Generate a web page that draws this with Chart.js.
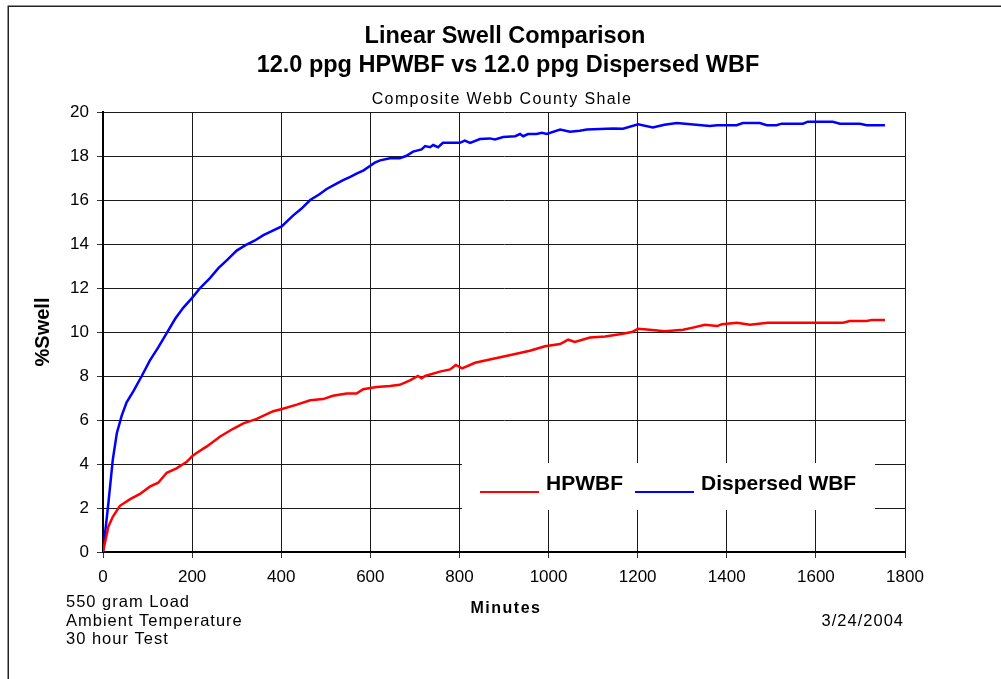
<!DOCTYPE html>
<html>
<head>
<meta charset="utf-8">
<script src="https://cdn.jsdelivr.net/npm/chart.js@4.4.1/dist/chart.umd.min.js"></script>
<style>
  html, body { margin: 0; padding: 0; background: #fff; }
  #wrap { width: 1001px; height: 679px; }
</style>
</head>
<body>
<div id="wrap"><canvas id="myChart" width="1001" height="679"></canvas></div>
<script>
// data
var hpMinutes = [0, 12, 22, 38, 61, 83, 105, 124, 143, 165, 188, 200, 210, 233, 263, 292, 315, 345, 382, 402, 435, 465, 494, 516, 547, 569, 584, 614, 644, 666, 689, 707, 715, 723, 756, 779, 792, 806, 835, 868, 902, 925, 958, 992, 1026, 1044, 1059, 1093, 1127, 1160, 1187, 1201, 1227, 1261, 1302, 1324, 1351, 1378, 1389, 1423, 1452, 1492, 1661, 1676, 1714, 1726, 1755];
var hpSwell = [0, 1.15, 1.6, 2.1, 2.4, 2.64, 2.97, 3.15, 3.6, 3.8, 4.1, 4.35, 4.5, 4.8, 5.25, 5.6, 5.85, 6.05, 6.4, 6.5, 6.7, 6.9, 6.95, 7.1, 7.2, 7.2, 7.4, 7.5, 7.55, 7.6, 7.8, 8.0, 7.9, 8.0, 8.2, 8.3, 8.5, 8.35, 8.6, 8.75, 8.9, 9.0, 9.15, 9.35, 9.45, 9.65, 9.55, 9.75, 9.8, 9.9, 10.0, 10.15, 10.1, 10.03, 10.1, 10.2, 10.33, 10.27, 10.35, 10.42, 10.33, 10.42, 10.42, 10.5, 10.5, 10.55, 10.55];

var dwMinutes = [0, 12, 22, 31, 42, 53, 68, 87, 105, 124, 143, 162, 180, 200, 218, 240, 259, 280, 300, 320, 340, 360, 380, 401, 427, 445, 465, 485, 502, 520, 539, 555, 569, 585, 599, 610, 622, 644, 666, 680, 696, 715, 723, 734, 741, 752, 763, 801, 812, 824, 846, 868, 880, 898, 925, 936, 943, 954, 973, 985, 996, 1026, 1048, 1070, 1086, 1145, 1167, 1201, 1234, 1260, 1288, 1362, 1378, 1422, 1436, 1474, 1490, 1512, 1523, 1571, 1582, 1638, 1654, 1699, 1714, 1755];
var dwSwell = [0, 2.2, 4.2, 5.4, 6.2, 6.8, 7.3, 8.0, 8.7, 9.3, 9.95, 10.6, 11.1, 11.55, 12.0, 12.45, 12.9, 13.3, 13.7, 13.95, 14.15, 14.4, 14.6, 14.8, 15.3, 15.6, 16.0, 16.25, 16.5, 16.7, 16.9, 17.05, 17.2, 17.35, 17.55, 17.7, 17.8, 17.9, 17.9, 18.0, 18.2, 18.3, 18.45, 18.4, 18.5, 18.4, 18.6, 18.6, 18.7, 18.6, 18.77, 18.8, 18.75, 18.86, 18.9, 19.0, 18.9, 19.0, 19.0, 19.05, 19.0, 19.2, 19.1, 19.15, 19.2, 19.25, 19.24, 19.44, 19.3, 19.42, 19.5, 19.36, 19.4, 19.4, 19.5, 19.5, 19.4, 19.4, 19.47, 19.47, 19.56, 19.56, 19.47, 19.47, 19.4, 19.4];

var seriesNames = ["HPWBF", "Dispersed WBF"];
var seriesColors = ["#ff0000", "#0000ff"];

var titleLines = ["Linear Swell Comparison", "12.0 ppg HPWBF vs 12.0 ppg Dispersed WBF"];
var subTitle = "Composite Webb County Shale";
var xTitle = "Minutes";
var yTitle = "%Swell";
var notesLeft = ["550 gram Load", "Ambient Temperature", "30 hour Test"];
var noteDate = "3/24/2004";

var FONT = "'Liberation Sans', Arial, sans-serif";

function toPoints(xs, ys) {
  var pts = [];
  for (var i = 0; i < xs.length; i++) pts.push({x: xs[i], y: ys[i]});
  return pts;
}

// frame, titles, notes and the legend box
var extrasPlugin = {
  id: "extras",
  afterDraw: function(chart) {
    var ctx = chart.ctx;
    ctx.save();
    ctx.strokeStyle = "#222";
    ctx.lineWidth = 1.5;
    ctx.strokeRect(8.25, 6.25, 1200, 1000);

    ctx.fillStyle = "#000";
    ctx.textAlign = "center";
    ctx.textBaseline = "alphabetic";
    ctx.font = "bold 23.5px " + FONT;
    ctx.fillText(titleLines[0], 505, 43);
    ctx.fillText(titleLines[1], 508, 72);
    ctx.font = "16px " + FONT;
    ctx.letterSpacing = "1.4px";
    ctx.fillText(subTitle, 502, 104);

    ctx.font = "bold 16px " + FONT;
    ctx.letterSpacing = "1.5px";
    ctx.fillText(xTitle, 506, 613);

    ctx.textAlign = "left";
    ctx.font = "16.5px " + FONT;
    ctx.letterSpacing = "1px";
    for (var i = 0; i < notesLeft.length; i++) {
      ctx.fillText(notesLeft[i], 66, 607 + i * 18.5);
    }
    ctx.textAlign = "right";
    ctx.fillText(noteDate, 904, 626);
    ctx.letterSpacing = "0px";

    // legend
    var lx = 462, ly = 463, lw = 413, lh = 47;
    ctx.fillStyle = "#fff";
    ctx.fillRect(lx, ly, lw, lh);
    var xs = [480, 635];
    ctx.font = "bold 21px " + FONT;
    ctx.textAlign = "left";
    chart.data.datasets.forEach(function(ds, k) {
      ctx.strokeStyle = ds.borderColor;
      ctx.lineWidth = 2;
      ctx.beginPath();
      ctx.moveTo(xs[k], 492);
      ctx.lineTo(xs[k] + 59, 492);
      ctx.stroke();
      ctx.fillStyle = "#000";
      ctx.fillText(ds.label, xs[k] + 66, 490);
    });
    ctx.restore();
  }
};

new Chart("myChart", {
  type: "line",
  data: {
    datasets: [{
      label: seriesNames[0],
      data: toPoints(hpMinutes, hpSwell),
      borderColor: seriesColors[0],
      borderWidth: 2.5,
      pointRadius: 0,
      tension: 0
    }, {
      label: seriesNames[1],
      data: toPoints(dwMinutes, dwSwell),
      borderColor: seriesColors[1],
      borderWidth: 2.5,
      pointRadius: 0,
      tension: 0
    }]
  },
  options: {
    responsive: false,
    animation: false,
    layout: { padding: { left: 0, top: 112, right: 96, bottom: 67 } },
    plugins: {
      legend: { display: false },
      title: { display: false },
      tooltip: { enabled: false }
    },
    scales: {
      x: {
        type: "linear",
        min: 0,
        max: 1800,
        ticks: {
          stepSize: 200, color: "#000", font: { family: FONT, size: 17 }, padding: 9, maxRotation: 0,
          callback: function(v) { return String(v); }
        },
        grid: { color: "#1a1a1a", lineWidth: 1, tickLength: 6, tickColor: "#333" },
        border: { color: "#000", width: 2 },
        afterFit: function(scale) { scale.height = 60; }
      },
      y: {
        min: 0,
        max: 20,
        ticks: { stepSize: 2, color: "#000", font: { family: FONT, size: 17 }, padding: 8 },
        grid: { color: "#1a1a1a", lineWidth: 1, tickLength: 6, tickColor: "#333" },
        border: { color: "#000", width: 2 },
        title: { display: true, text: yTitle, color: "#000", font: { family: FONT, size: 20, weight: "bold" }, padding: { top: 31, bottom: 0 } },
        afterFit: function(scale) { scale.width = 103; }
      }
    }
  },
  plugins: [extrasPlugin]
});
</script>
</body>
</html>
